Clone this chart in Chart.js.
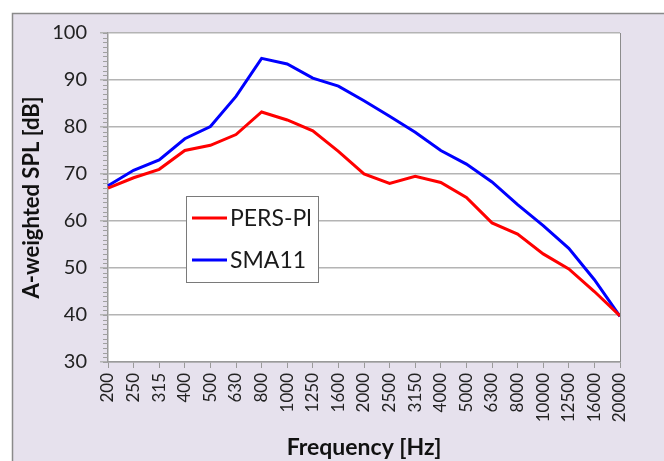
<!DOCTYPE html>
<html>
<head>
<meta charset="utf-8">
<script src="https://cdn.jsdelivr.net/npm/chart.js@4.4.0/dist/chart.umd.min.js"></script>
<style>
  html, body { margin: 0; padding: 0; background: #fff; }
  #wrap { width: 664px; height: 461px; position: relative; }
</style>
</head>
<body>
<div id="wrap"><canvas id="splChart" width="664" height="461"></canvas></div>
<script>
// frequency bands (Hz)
const freqs = ['200', '250', '315', '400', '500', '630', '800', '1000', '1250', '1600',
  '2000', '2500', '3150', '4000', '5000', '6300', '8000', '10000', '12500', '16000', '20000'];

// A-weighted SPL
const persPl = [67.0, 69.2, 71.0, 75.0, 76.1, 78.4, 83.2, 81.5, 79.2, 74.8,
  70.0, 68.0, 69.5, 68.2, 65.0, 59.6, 57.2, 53.0, 49.8, 45.0, 39.8];
const sma11 = [67.5, 70.8, 73.0, 77.5, 80.1, 86.5, 94.6, 93.4, 90.4, 88.7,
  85.6, 82.3, 78.9, 75.0, 72.1, 68.3, 63.5, 59.0, 54.2, 47.5, 39.7];

const yTicks = [30, 40, 50, 60, 70, 80, 90, 100];

const FONT = 'Lato, "Open Sans", sans-serif';
const LAVENDER = '#e6e1ed';

// background frame, white plot area, minor ticks, legend box
const decor = {
  id: 'decor',
  beforeDraw(chart) {
    const ctx = chart.ctx;
    const a = chart.chartArea;
    ctx.save();
    ctx.fillStyle = '#fff';
    ctx.fillRect(0, 0, chart.width, chart.height);
    ctx.fillStyle = LAVENDER;
    ctx.fillRect(12, 13, chart.width - 12, chart.height - 13);
    ctx.strokeStyle = '#8a8a8a';
    ctx.lineWidth = 1.5;
    ctx.beginPath();
    ctx.moveTo(12.5, chart.height);
    ctx.lineTo(12.5, 13.5);
    ctx.lineTo(chart.width, 13.5);
    ctx.stroke();
    ctx.fillStyle = '#fff';
    ctx.fillRect(a.left, a.top, a.right - a.left, a.bottom - a.top);
    ctx.restore();
  },
  afterDatasetsDraw(chart) {
    const ctx = chart.ctx;
    const a = chart.chartArea;
    const y = chart.scales.y;
    ctx.save();
    // minor ticks every 1 dB
    ctx.strokeStyle = '#a0a0a0';
    ctx.lineWidth = 1;
    ctx.beginPath();
    for (let v = y.min; v <= y.max; v++) {
      const py = Math.round(y.getPixelForValue(v)) + 0.5;
      ctx.moveTo(a.left - 5, py);
      ctx.lineTo(a.left, py);
    }
    ctx.stroke();
    // right border of the plot
    ctx.strokeStyle = '#8c8c8c';
    ctx.beginPath();
    ctx.moveTo(a.right + 0.5, a.top);
    ctx.lineTo(a.right + 0.5, a.bottom);
    ctx.stroke();

    // legend box
    const bx = 186, by = 196, bw = 132, bh = 86;
    ctx.fillStyle = '#fff';
    ctx.fillRect(bx, by, bw, bh);
    ctx.strokeStyle = '#7a7a7a';
    ctx.lineWidth = 1;
    ctx.strokeRect(bx + 0.5, by + 0.5, bw, bh);
    ctx.font = '23px ' + FONT;
    ctx.textBaseline = 'middle';
    chart.data.datasets.forEach((ds, i) => {
      const ly = by + 22 + i * 42;
      ctx.strokeStyle = ds.borderColor;
      ctx.lineWidth = 3;
      ctx.beginPath();
      ctx.moveTo(bx + 6, ly);
      ctx.lineTo(bx + 41, ly);
      ctx.stroke();
      ctx.fillStyle = '#1a1a1a';
      ctx.fillText(ds.label, bx + 44, ly + 1);
    });
    ctx.restore();
  }
};

new Chart(document.getElementById('splChart'), {
  type: 'line',
  data: {
    labels: freqs,
    datasets: [{
      label: 'PERS-Pl',
      data: persPl,
      borderColor: '#ff0000',
      borderWidth: 3,
      pointRadius: 0,
      tension: 0
    }, {
      label: 'SMA11',
      data: sma11,
      borderColor: '#0000ff',
      borderWidth: 3,
      pointRadius: 0,
      tension: 0
    }]
  },
  options: {
    responsive: false,
    animation: false,
    layout: { padding: { top: 33, right: 44, left: 0, bottom: 0 } },
    plugins: { legend: { display: false }, tooltip: { enabled: false } },
    scales: {
      x: {
        offset: false,
        grid: { drawOnChartArea: false, tickLength: 6, color: '#9a9a9a' },
        border: { color: '#9a9a9a', width: 1.5 },
        ticks: {
          minRotation: 90, maxRotation: 90, autoSkip: false,
          font: { family: FONT, size: 17 }, color: '#222', padding: 5
        },
        title: {
          display: true, text: 'Frequency [Hz]',
          font: { family: FONT, size: 23, weight: 'bold' }, color: '#111',
          padding: { top: 4, bottom: 0 }
        },
        afterFit(s) { s.height = 99; }
      },
      y: {
        min: 30, max: 100,
        afterBuildTicks(s) { s.ticks = yTicks.map(v => ({ value: v })); },
        grid: { color: '#b4b4b4', lineWidth: 1.5, tickLength: 8 },
        border: { color: '#9a9a9a', width: 1.5 },
        ticks: { font: { family: FONT, size: 20 }, color: '#222', padding: 13 },
        title: {
          display: true, text: 'A-weighted SPL [dB]',
          font: { family: FONT, size: 22, weight: 'bold' }, color: '#111',
          padding: { top: 19, bottom: 0 }
        },
        afterFit(s) { s.width = 108; }
      }
    }
  },
  plugins: [decor]
});
</script>
</body>
</html>
